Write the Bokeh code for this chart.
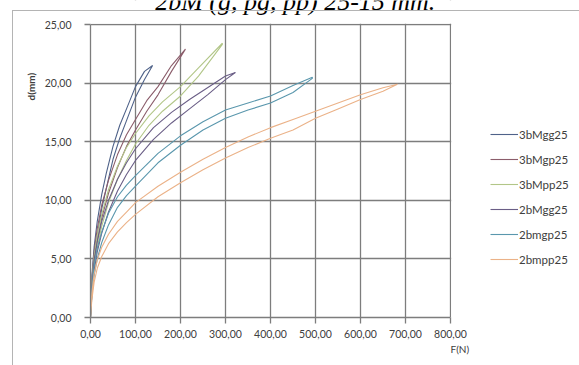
from bokeh.plotting import figure
from bokeh.models import (Legend, LegendItem, Label, BoxAnnotation, Title,
                          CustomJSTickFormatter, FixedTicker, Range1d, InlineStyleSheet)
from bokeh.embed import file_html
from bokeh.resources import INLINE

# ---------------- data ----------------
series_names = ["3bMgg25", "3bMgp25", "3bMpp25", "2bMgg25", "2bmgp25", "2bmpp25"]
series_colors = ["#4f6289", "#8b5d6b", "#b2c688", "#6a5e86", "#5a97ad", "#ebb288"]

F_3bMgg25 = [0, 3, 8, 15, 25, 35, 50, 65, 80, 100, 120, 138]
dlo_3bMgg25 = [0, 2.5, 5.0, 7.0, 9.3, 11.0, 13.5, 15.3, 16.8, 18.8, 20.3, 21.5]
dup_3bMgg25 = [0.5, 3.5, 6.0, 8.2, 10.5, 12.3, 14.6, 16.4, 17.8, 19.7, 21.0, 21.5]

F_3bMgp25 = [0, 3, 8, 15, 25, 40, 60, 80, 100, 125, 150, 180, 211]
dlo_3bMgp25 = [0, 2.3, 4.6, 6.5, 8.5, 10.6, 12.8, 14.6, 16.0, 17.6, 19.0, 21.0, 22.9]
dup_3bMgp25 = [0.5, 3.2, 5.6, 7.6, 9.6, 11.7, 13.9, 15.6, 16.9, 18.5, 19.7, 21.5, 22.9]

F_3bMpp25 = [0, 3, 8, 15, 25, 40, 60, 80, 100, 130, 160, 200, 240, 293]
dlo_3bMpp25 = [0, 2.0, 4.2, 6.0, 7.8, 9.8, 11.8, 13.4, 14.8, 16.4, 17.6, 18.9, 20.6, 23.3]
dup_3bMpp25 = [0.5, 3.0, 5.2, 7.0, 8.8, 10.9, 12.9, 14.5, 15.7, 17.2, 18.4, 19.7, 21.3, 23.4]

F_2bMgg25 = [0, 3, 8, 15, 25, 40, 60, 80, 100, 140, 180, 220, 260, 300, 322]
dlo_2bMgg25 = [0, 2.0, 4.0, 5.6, 7.2, 9.0, 10.8, 12.2, 13.4, 15.2, 16.6, 17.8, 19.0, 20.3, 20.9]
dup_2bMgg25 = [0.5, 2.8, 4.9, 6.5, 8.2, 10.0, 11.8, 13.2, 14.4, 16.2, 17.5, 18.6, 19.6, 20.6, 20.9]

F_2bmgp25 = [0, 3, 8, 15, 25, 40, 60, 80, 100, 150, 200, 250, 300, 350, 400, 450, 493]
dlo_2bmgp25 = [0, 1.8, 3.6, 5.0, 6.4, 7.9, 9.4, 10.4, 11.2, 13.2, 14.7, 16.0, 17.0, 17.7, 18.3, 19.2, 20.4]
dup_2bmgp25 = [0.5, 2.5, 4.4, 5.9, 7.3, 8.9, 10.3, 11.3, 12.1, 14.0, 15.5, 16.7, 17.7, 18.3, 18.9, 19.8, 20.5]

F_2bmpp25 = [0, 3, 8, 15, 25, 40, 60, 80, 100, 150, 200, 250, 300, 350, 400, 450, 500, 550, 600, 650, 682]
dlo_2bmpp25 = [0, 1.5, 3.0, 4.2, 5.2, 6.3, 7.3, 8.1, 8.8, 10.3, 11.5, 12.6, 13.6, 14.5, 15.3, 16.0, 17.0, 17.8, 18.6, 19.3, 19.9]
dup_2bmpp25 = [0.5, 2.1, 3.7, 4.9, 6.0, 7.1, 8.2, 9.0, 9.8, 11.2, 12.4, 13.5, 14.5, 15.4, 16.2, 16.9, 17.6, 18.3, 19.0, 19.6, 19.9]

x_ticks = [0, 100, 200, 300, 400, 500, 600, 700, 800]
y_ticks = [0, 5, 10, 15, 20, 25]

title_text = "2bM (g, pg, pp) 25-15 mm."
x_title = "F(N)"
y_title = "d(mm)"

series = [
    (F_3bMgg25, dlo_3bMgg25, dup_3bMgg25),
    (F_3bMgp25, dlo_3bMgp25, dup_3bMgp25),
    (F_3bMpp25, dlo_3bMpp25, dup_3bMpp25),
    (F_2bMgg25, dlo_2bMgg25, dup_2bMgg25),
    (F_2bmgp25, dlo_2bmgp25, dup_2bmgp25),
    (F_2bmpp25, dlo_2bmpp25, dup_2bmpp25),
]

# ---------------- figure ----------------
GRID = "#7d7d7d"
TXT = "#404040"
FONT = "Lato"

x_min, x_max = x_ticks[0], x_ticks[-1]
y_min, y_max = y_ticks[0], y_ticks[-1]
# plot area occupies 360 x 293 px; the frame is extended to the window's
# top and right edges so that title and legend are not clipped
x_end = x_max * (579 - 90) / 360.0
y_end = y_max * 317 / 293.0

p = figure(width=579, height=365, output_backend="svg", toolbar_location=None,
           x_range=Range1d(x_min, x_end), y_range=Range1d(y_min, y_end),
           min_border_left=90, min_border_right=0, min_border_top=0,
           min_border_bottom=48, title_location=None,
           background_fill_color="white", border_fill_color="white")
p.outline_line_color = None

fmt = CustomJSTickFormatter(code="return tick.toFixed(2).replace('.', ',');")
for ax, ticks in ((p.xaxis[0], x_ticks), (p.yaxis[0], y_ticks)):
    ax.ticker = FixedTicker(ticks=ticks)
    ax.bounds = (ticks[0], ticks[-1])
    ax.formatter = fmt
    ax.axis_line_color = GRID
    ax.axis_line_width = 1.3
    ax.major_tick_line_color = GRID
    ax.major_tick_line_width = 1.3
    ax.major_tick_in = 0
    ax.major_tick_out = 6
    ax.minor_tick_line_color = None
    ax.major_label_text_font = FONT
    ax.major_label_text_font_size = "10.5px"
    ax.major_label_text_color = TXT
p.yaxis[0].major_label_standoff = 13
p.xaxis[0].major_label_standoff = 6

p.xgrid.ticker = FixedTicker(ticks=x_ticks)
p.ygrid.ticker = FixedTicker(ticks=y_ticks)
p.grid.grid_line_color = GRID
p.grid.grid_line_width = 1.3

# white masks hide the grid outside the plot area
p.add_layout(BoxAnnotation(bottom=y_max + 0.06, fill_color="white", fill_alpha=1,
                           line_color=None, level="underlay"))
p.add_layout(BoxAnnotation(left=x_max + 1.5, fill_color="white", fill_alpha=1,
                           line_color=None, level="underlay"))

renderers = []
for (F, lo, up), color in zip(series, series_colors):
    xs = list(F) + list(reversed(F))
    ys = list(lo) + list(reversed(up))
    r = p.line(xs, ys, line_color=color, line_width=1.1)
    renderers.append(r)

legend = Legend(items=[LegendItem(label=n, renderers=[r]) for n, r in zip(series_names, renderers)],
                location=(400, 48), orientation="vertical",
                glyph_width=28, glyph_height=20, label_height=20, spacing=5,
                label_standoff=1, padding=0, margin=0,
                border_line_color=None, background_fill_alpha=0,
                label_text_font=FONT, label_text_font_size="11.5px",
                label_text_color=TXT)
p.add_layout(legend, "center")

# title: only its lower part lies inside the window, as in the reference
p.add_layout(Label(x=455, y=26.96, text=title_text, text_align="center",
                   text_baseline="alphabetic", text_font="Liberation Serif",
                   text_font_style="italic", text_font_size="26px", text_color="black"))

p.add_layout(Title(text=y_title, align="left", offset=217, standoff=10,
                   text_font=FONT, text_font_style="bold", text_font_size="10px",
                   text_color=TXT), "left")
p.add_layout(Title(text=x_title, align="left", offset=360, standoff=0,
                   text_font=FONT, text_font_style="normal", text_font_size="10px",
                   text_color=TXT), "below")

# light grey chart-area border (extends beyond the window)
p.stylesheets = [InlineStyleSheet(css=(
    ":host{position:relative;}"
    ":host::after{content:'';position:absolute;left:12px;top:10px;width:700px;"
    "height:500px;border:1px solid #b4b4b4;pointer-events:none;z-index:10;}"))]

open("out.html", "w").write(file_html(p, INLINE))
